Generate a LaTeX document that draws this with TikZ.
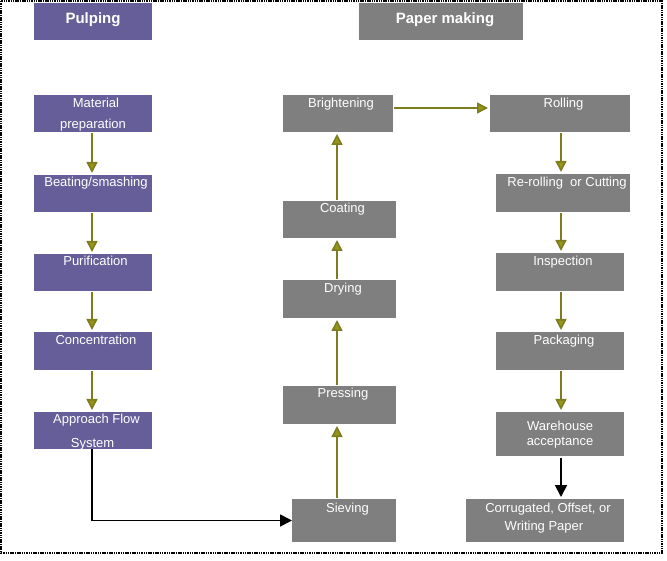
\documentclass[tikz,border=0pt]{standalone}
\usepackage{fontspec}
\setmainfont{Liberation Sans}
\usetikzlibrary{arrows.meta}
\definecolor{purp}{RGB}{102,94,153}
\definecolor{grayb}{RGB}{127,127,127}
\definecolor{oliv}{RGB}{125,125,30}
\definecolor{olivtip}{RGB}{150,150,25}
\newcommand\mybox[6]{\node[box,fill=#6,minimum width=#4pt,minimum height=#5pt] (#1) at (#2,#3) {};}
\begin{document}
\begin{tikzpicture}[x=1pt,y=-1pt,
 box/.style={rectangle, draw=none, inner sep=0pt, outer sep=0pt},
 txt/.style={anchor=base, inner sep=0pt, text=white, font=\fontsize{13}{13}\selectfont},
 head/.style={anchor=base, inner sep=0pt, text=white, font=\fontsize{15}{15}\selectfont\bfseries},
 flow/.style={draw=oliv, line width=1.6pt, shorten >=2pt, shorten <=1pt, -{Triangle[length=11pt,width=11pt,fill=olivtip]}},
 blk/.style={draw=black, line width=1.8pt, -{Triangle[length=12pt,width=12pt]}}]
\useasboundingbox (0,0) rectangle (667,561);
\draw[dash pattern=on 1.5pt off 0.8pt, line width=1.2pt] (1,1) rectangle (662,553);
% boxes
\mybox{pulp}{93}{21.5}{118}{37}{purp}
\mybox{pm}{441}{21.5}{164}{37}{grayb}
\mybox{mat}{93}{113.5}{118}{37}{purp}
\mybox{beat}{93}{193.5}{118}{37}{purp}
\mybox{puri}{93}{272.5}{118}{37}{purp}
\mybox{conc}{93}{351}{118}{38}{purp}
\mybox{appr}{93}{430.5}{118}{37}{purp}
\mybox{bright}{338}{113.5}{110}{37}{grayb}
\mybox{coat}{339.5}{219.5}{113}{37}{grayb}
\mybox{dry}{339.5}{299}{113}{38}{grayb}
\mybox{press}{339.5}{405}{113}{38}{grayb}
\mybox{sieve}{344}{520.5}{104}{43}{grayb}
\mybox{roll}{560}{113.5}{140}{37}{grayb}
\mybox{reroll}{563}{193}{134}{38}{grayb}
\mybox{insp}{560}{272}{128}{38}{grayb}
\mybox{pack}{560}{351}{128}{38}{grayb}
\mybox{ware}{560}{434}{128}{44}{grayb}
\mybox{corr}{545}{520.5}{158}{43}{grayb}
% texts
\node[head] (tpulp) at (93,23.5) {Pulping};
\node[head] (tpm) at (445,23.5) {Paper making};
\node[txt] (tmat1) at (96,108) {Material};
\node[txt] (tmat2) at (93,129) {preparation};
\node[txt] (tbeat) at (96,187) {Beating/smashing};
\node[txt] (tpuri) at (95.5,266) {Purification};
\node[txt] (tconc) at (96,345) {Concentration};
\node[txt] (tappr1) at (96.5,424) {Approach Flow};
\node[txt] (tappr2) at (92.5,447) {System};
\node[txt] (tbright) at (341,108) {Brightening};
\node[txt] (tcoat) at (342.5,213) {Coating};
\node[txt] (tdry) at (343,293) {Drying};
\node[txt] (tpress) at (343,398) {Pressing};
\node[txt] (tsieve) at (347.5,512) {Sieving};
\node[txt] (troll) at (563.5,108) {Rolling};
\node[txt] (treroll) at (567,187) {Re-rolling\ \ or Cutting};
\node[txt] (tinsp) at (563,266) {Inspection};
\node[txt] (tpack) at (564,345) {Packaging};
\node[txt] (tware1) at (560,430) {Warehouse};
\node[txt] (tware2) at (560,446) {acceptance};
\node[txt] (tcorr1) at (548,512) {Corrugated, Offset, or};
\node[txt] (tcorr2) at (544,530) {Writing Paper};
% column coordinates
\coordinate (lc) at (92,0);
\coordinate (mc) at (337,0);
\coordinate (rc) at (561,0);
% connectors
\draw[flow] (lc |- mat.south) -- (lc |- beat.north);
\draw[flow] (lc |- beat.south) -- (lc |- puri.north);
\draw[flow] (lc |- puri.south) -- (lc |- conc.north);
\draw[flow] (lc |- conc.south) -- (lc |- appr.north);
\draw[blk] (lc |- appr.south) |- (sieve.west);
\draw[flow] (mc |- sieve.north) -- (mc |- press.south);
\draw[flow] (mc |- press.north) -- (mc |- dry.south);
\draw[flow] (mc |- dry.north) -- (mc |- coat.south);
\draw[flow] (mc |- coat.north) -- (mc |- bright.south);
\draw[flow] ([yshift=5.5pt]bright.east) -- ([yshift=5.5pt]roll.west);
\draw[flow] (rc |- roll.south) -- (rc |- reroll.north);
\draw[flow] (rc |- reroll.south) -- (rc |- insp.north);
\draw[flow] (rc |- insp.south) -- (rc |- pack.north);
\draw[flow] (rc |- pack.south) -- (rc |- ware.north);
\draw[blk, shorten >=2pt, shorten <=2pt] (rc |- ware.south) -- (rc |- corr.north);
\end{tikzpicture}
\end{document}
